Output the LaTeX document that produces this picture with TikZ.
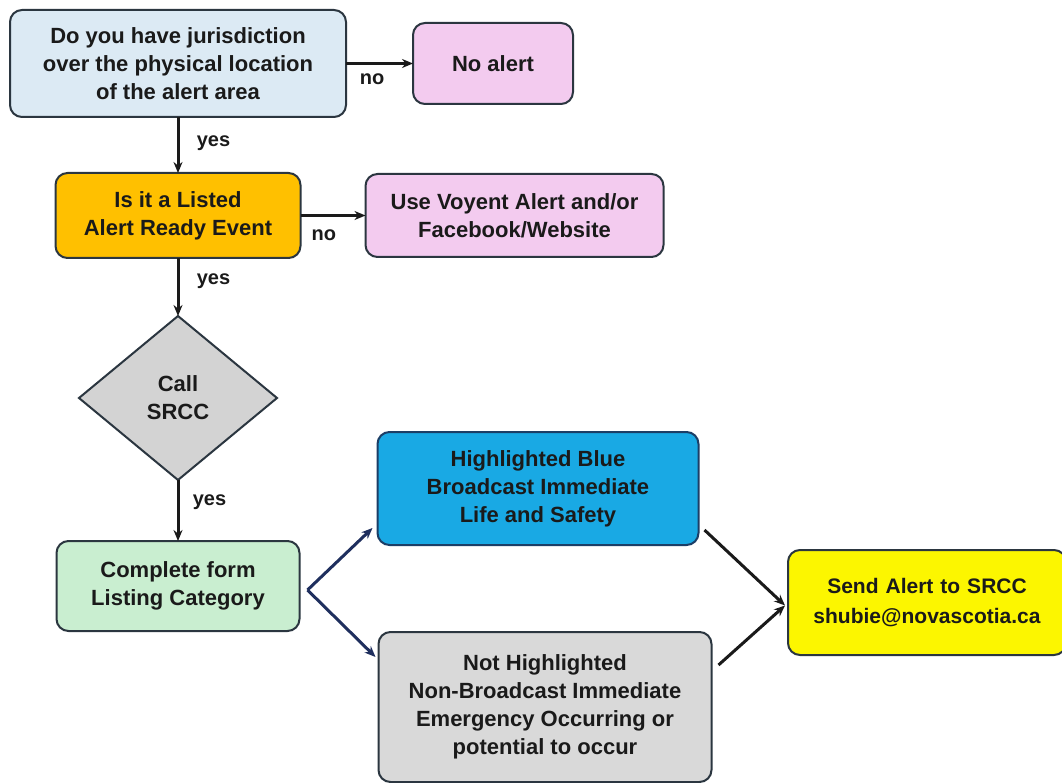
\documentclass[tikz,border=0pt]{standalone}
\usepackage{fontspec}
\setmainfont{Liberation Sans}
\usetikzlibrary{positioning,shapes.geometric,arrows.meta}
\definecolor{edgegray}{HTML}{2B3640}
\definecolor{textdark}{HTML}{1A1A1A}
\definecolor{arrowdark}{HTML}{1A1A1A}
\definecolor{arrownavy}{HTML}{1F2F5E}
\definecolor{jurisblue}{HTML}{DCEAF4}
\definecolor{alertpink}{HTML}{F3CBEF}
\definecolor{listedgold}{HTML}{FFC000}
\definecolor{srccgray}{HTML}{D3D3D3}
\definecolor{formgreen}{HTML}{C9EED0}
\definecolor{highblue}{HTML}{19A9E4}
\definecolor{highedge}{HTML}{1C3E66}
\definecolor{nothighgray}{HTML}{D9D9D9}
\definecolor{sendyellow}{HTML}{FCF600}

\begin{document}
\begin{tikzpicture}[
    box/.style={draw=edgegray, line width=2pt, rounded corners=12pt, align=center,
        inner sep=0pt, outer sep=0pt, text=textdark,
        font=\fontsize{22}{28}\selectfont\bfseries},
    decision/.style={diamond, draw=edgegray, line width=2pt, fill=srccgray, align=center,
        inner sep=0pt, outer sep=0pt, text=textdark,
        font=\fontsize{22}{28}\selectfont\bfseries},
    arr/.style={-{Stealth[length=11pt,width=9pt]}, line width=3pt, draw=arrowdark},
    navyarr/.style={arr, draw=arrownavy},
    lbl/.style={font=\fontsize{20}{24}\selectfont\bfseries, text=textdark},
]
    \useasboundingbox[fill=white] (0pt,0pt) rectangle (1062pt,-783pt);

    \node [box, fill=jurisblue, minimum width=336pt, minimum height=107pt] (juris) at (178pt,-63.5pt)
        {Do you have jurisdiction\\over the physical location\\of the alert area};
    \node [box, fill=alertpink, minimum width=160pt, minimum height=81pt, right=67pt of juris] (noalert)
        {No alert};
    \node [box, fill=listedgold, minimum width=245pt, minimum height=85pt, below=56pt of juris] (listed)
        {Is it a Listed\\Alert Ready Event};
    \node [box, fill=alertpink, minimum width=298pt, minimum height=83pt, right=65pt of listed] (voyent)
        {Use Voyent Alert and/or\\Facebook/Website};
    \node [decision, minimum width=198pt, minimum height=164pt, below=58pt of listed] (srcc)
        {Call\\SRCC};
    \node [box, fill=formgreen, minimum width=243pt, minimum height=90pt, below=61pt of srcc] (form)
        {Complete form\\Listing Category};
    \node [box, fill=highblue, draw=highedge, minimum width=321pt, minimum height=113pt,
        above right=41pt and 78pt of form.east] (high)
        {Highlighted Blue\\Broadcast Immediate\\Life and Safety};
    \node [box, fill=nothighgray, minimum width=333pt, minimum height=150pt,
        below right=46pt and 79pt of form.east] (nothigh)
        {Not Highlighted\\Non-Broadcast Immediate\\Emergency Occurring or\\potential to occur};
    \node [box, fill=sendyellow, minimum width=278pt, minimum height=105pt, text width=273pt,
        font=\fontsize{21}{30}\selectfont\bfseries,
        below right=5pt and 89.5pt of high.south east] (send)
        {Send Alert to SRCC\\shubie@novascotia.ca};

    \draw [arr] (juris) -- node [lbl, below=5pt, pos=0.39] {no} (noalert);
    \draw [arr] (juris) -- node [lbl, right=14pt, pos=0.47] {yes} (listed);
    \draw [arr] (listed) -- node [lbl, below=9pt, pos=0.36] {no} (voyent);
    \draw [arr] (listed) -- node [lbl, right=14pt, pos=0.4] {yes} (srcc);
    \draw [arr] (srcc) -- node [lbl, right=10pt, pos=0.36] {yes} (form);
    \draw [navyarr] ([xshift=8pt,yshift=-4pt]form.east) -- ([xshift=-5pt,yshift=17pt]high.south west);
    \draw [navyarr] ([xshift=8pt,yshift=-4pt]form.east) -- ([xshift=-3pt,yshift=-25pt]nothigh.north west);
    \draw [arr] ([xshift=6pt,yshift=15pt]high.south east) -- ([xshift=-3pt,yshift=-3pt]send.west);
    \draw [arr] ([xshift=7pt,yshift=-33pt]nothigh.north east) -- ([xshift=-3pt,yshift=-3pt]send.west);
\end{tikzpicture}
\end{document}
